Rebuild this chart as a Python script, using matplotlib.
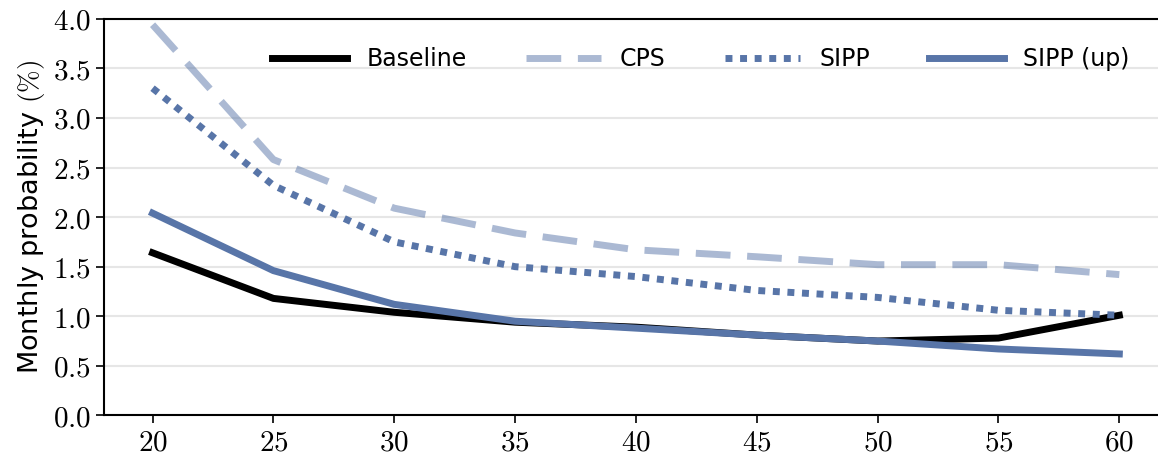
import matplotlib
matplotlib.use("Agg")
import matplotlib.pyplot as plt
from matplotlib.ticker import FuncFormatter

ages = [20, 25, 30, 35, 40, 45, 50, 55, 60]
baseline = [1.64, 1.18, 1.04, 0.94, 0.89, 0.81, 0.75, 0.78, 1.01]
cps = [3.94, 2.58, 2.09, 1.84, 1.67, 1.60, 1.52, 1.52, 1.42]
sipp = [3.30, 2.32, 1.75, 1.50, 1.40, 1.26, 1.19, 1.06, 1.01]
sipp_up = [2.04, 1.46, 1.12, 0.95, 0.88, 0.81, 0.75, 0.67, 0.62]

blue = '#5875a8'

plt.rcParams['mathtext.fontset'] = 'cm'
plt.rcParams['font.family'] = 'DejaVu Sans'

fig = plt.figure(figsize=(11.58, 4.58), dpi=100)
ax = fig.add_axes([0.090, 0.093, 0.91, 0.866])

ax.plot(ages, baseline, color='black', lw=5, label='Baseline')
ax.plot(ages, cps, color=blue, alpha=0.5, lw=5, dashes=(5, 2.4), label='CPS')
ax.plot(ages, sipp, color=blue, lw=5, linestyle=(0, (1, 1.1)), label='SIPP')
ax.plot(ages, sipp_up, color=blue, lw=5, label='SIPP (up)')

ax.set_xlim(18.0, 61.6)
ax.set_ylim(0, 4.0)
ax.set_xticks(ages)
ax.set_yticks([0.0, 0.5, 1.0, 1.5, 2.0, 2.5, 3.0, 3.5, 4.0])
ax.xaxis.set_major_formatter(FuncFormatter(lambda v, p: f'${v:.0f}$'))
ax.yaxis.set_major_formatter(FuncFormatter(lambda v, p: f'${v:.1f}$'))
ax.tick_params(labelsize=21, length=6, width=1.2)
ax.grid(axis='y', color='#e6e6e6', lw=1.5)
ax.set_axisbelow(True)
for s in ['left', 'bottom', 'top', 'right']:
    ax.spines[s].set_linewidth(1.5)
ax.spines['right'].set_visible(False)

ax.set_ylabel(r'Monthly probability $(\%)$', fontsize=19.5, labelpad=4)

ax.legend(loc='upper right', ncol=4, frameon=False, fontsize=17,
          handlelength=3.2, handletextpad=0.8, columnspacing=2.5,
          borderaxespad=0.8, bbox_to_anchor=(1.0, 1.0))

fig.savefig('out.png', dpi=100)
